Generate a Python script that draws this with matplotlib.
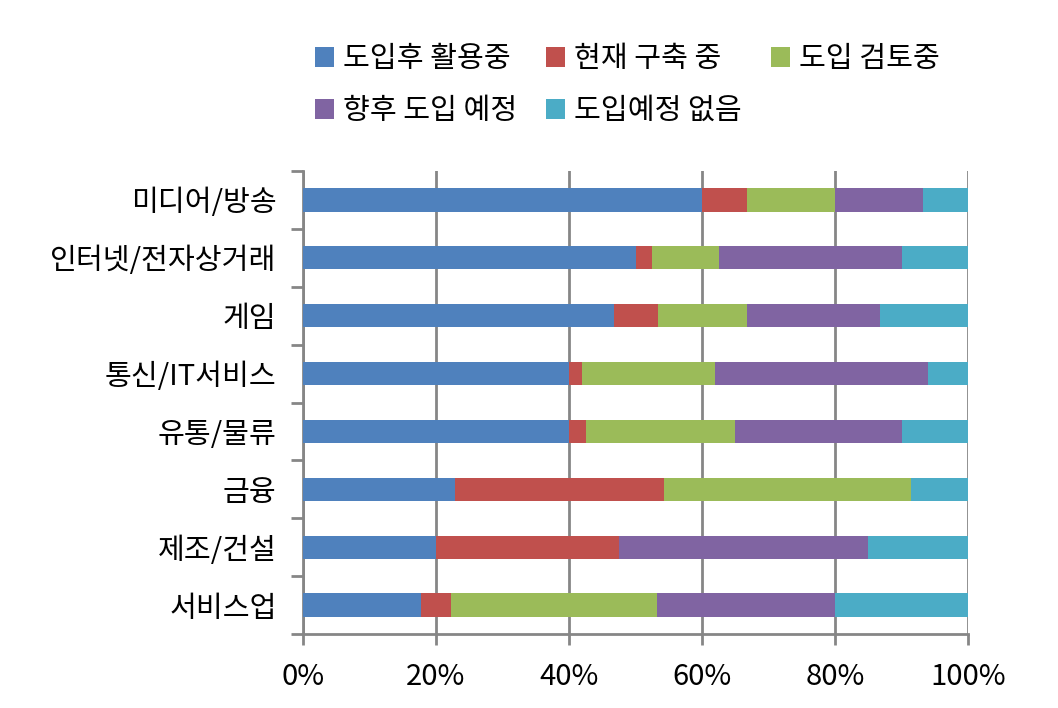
import numpy as np
import matplotlib
matplotlib.use("Agg")
import matplotlib.pyplot as plt

plt.rcParams['font.family'] = ['Noto Sans CJK KR', 'DejaVu Sans']

# 데이터 (%)
categories = ["미디어/방송", "인터넷/전자상거래", "게임", "통신/IT서비스",
              "유통/물류", "금융", "제조/건설", "서비스업"]
series_names = ["도입후 활용중", "현재 구축 중", "도입 검토중", "향후 도입 예정", "도입예정 없음"]
in_use = [60.0, 50.0, 46.7, 40.0, 40.0, 22.9, 20.0, 17.8]
building = [6.7, 2.5, 6.7, 2.0, 2.5, 31.4, 27.5, 4.4]
reviewing = [13.3, 10.0, 13.3, 20.0, 22.5, 37.1, 0.0, 31.1]
planned = [13.3, 27.5, 20.0, 32.0, 25.0, 0.0, 37.5, 26.7]
no_plan = [6.7, 10.0, 13.3, 6.0, 10.0, 8.6, 15.0, 20.0]
colors = ["#4F81BD", "#C0504D", "#9BBB59", "#8064A2", "#4BACC6"]

fig = plt.figure(figsize=(10.58, 7.08), dpi=100)
ax = fig.add_axes([303 / 1058, 1 - 634 / 708, 665 / 1058, 463 / 708])

y = np.arange(len(categories))
left = np.zeros(len(categories))
handles = []
for vals, name, c in zip([in_use, building, reviewing, planned, no_plan], series_names, colors):
    vals = np.array(vals)
    h = ax.barh(y, vals, left=left, height=0.4, color=c, label=name, zorder=3)
    handles.append(h)
    left += vals

ax.set_xlim(0, 100)
ax.set_ylim(len(categories) - 0.5, -0.5)
ax.set_xticks(np.arange(0, 101, 20))
ax.set_xticklabels([f"{v}%" for v in range(0, 101, 20)], fontsize=21)
ax.set_yticks(y)
ax.set_yticklabels(categories, fontsize=21)
ax.set_yticks(np.arange(-0.5, len(categories)), minor=True)

gray = "#868686"
ax.grid(axis="x", color=gray, linewidth=2, zorder=0)
for s in ["top", "right"]:
    ax.spines[s].set_visible(False)
for s in ["left", "bottom"]:
    ax.spines[s].set_color(gray)
    ax.spines[s].set_linewidth(2)
ax.tick_params(axis="y", which="major", length=0, pad=19)
ax.tick_params(axis="y", which="minor", length=9, width=2, color=gray)
ax.tick_params(axis="x", length=8, width=2, color=gray, pad=12)

order = [0, 3, 1, 4, 2]
fig.legend([handles[i] for i in order], [series_names[i] for i in order],
           loc="upper left", bbox_to_anchor=(289 / 1058, 1 - 18 / 708), ncol=3,
           frameon=False, fontsize=21, handlelength=0.65, handleheight=0.65,
           handletextpad=0.3, columnspacing=1.0, labelspacing=0.75)

fig.savefig("out.png", dpi=100)
